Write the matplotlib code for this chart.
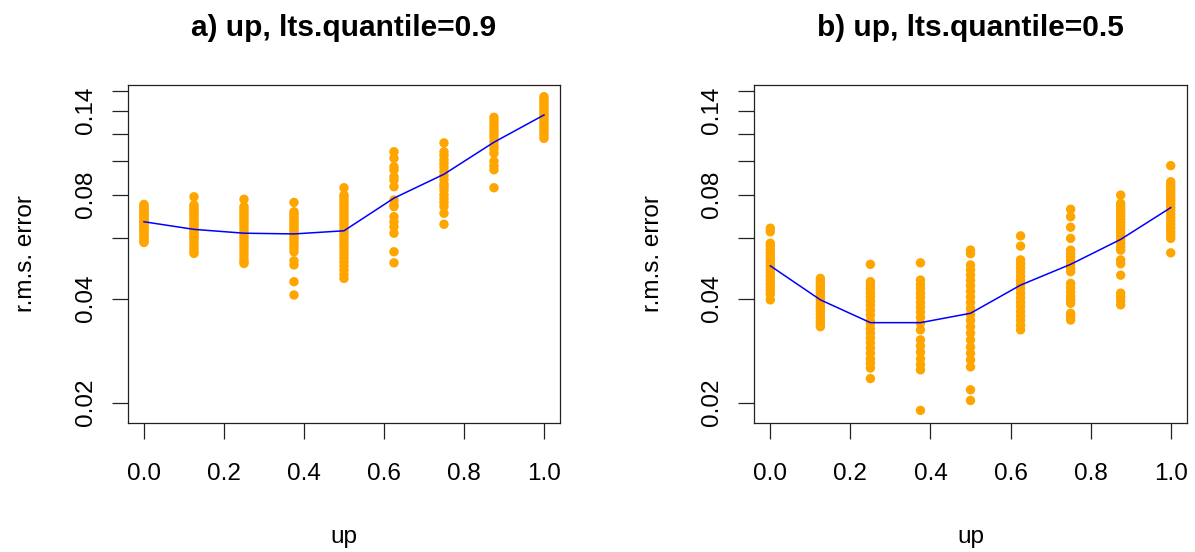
import numpy as np
import matplotlib.pyplot as plt
from matplotlib.ticker import NullLocator

plt.rcParams['font.family'] = ['Liberation Sans', 'DejaVu Sans']

# x positions of the groups
up = [0.0, 0.125, 0.25, 0.375, 0.5, 0.625, 0.75, 0.875, 1.0]

# r.m.s. errors per group, panel a (lts.quantile=0.9)
rmse_a = [
    [0.0750, 0.0742, 0.0735, 0.0728, 0.0720, 0.0712, 0.0705, 0.0698, 0.0690, 0.0683, 0.0676, 0.0670,
     0.0664, 0.0657, 0.0650, 0.0643, 0.0636, 0.0628, 0.0620, 0.0612, 0.0604, 0.0596, 0.0588, 0.0582],
    [0.0789, 0.0747, 0.0738, 0.0726, 0.0715, 0.0703, 0.0694, 0.0680, 0.0671, 0.0660, 0.0652, 0.0641,
     0.0633, 0.0622, 0.0615, 0.0604, 0.0596, 0.0585, 0.0572, 0.0561, 0.0550, 0.0541],
    [0.0776, 0.0739, 0.0728, 0.0715, 0.0703, 0.0690, 0.0679, 0.0666, 0.0654, 0.0640, 0.0626, 0.0610,
     0.0598, 0.0586, 0.0574, 0.0562, 0.0549, 0.0536, 0.0523, 0.0512, 0.0506],
    [0.0760, 0.0714, 0.0704, 0.0693, 0.0681, 0.0670, 0.0660, 0.0650, 0.0640, 0.0629, 0.0618, 0.0607,
     0.0596, 0.0584, 0.0572, 0.0560, 0.0547, 0.0515, 0.0501, 0.0448, 0.0410],
    [0.0838, 0.0798, 0.0785, 0.0770, 0.0755, 0.0740, 0.0725, 0.0710, 0.0696, 0.0682, 0.0668, 0.0655,
     0.0641, 0.0627, 0.0614, 0.0601, 0.0588, 0.0575, 0.0562, 0.0549, 0.0536, 0.0523, 0.0510, 0.0497,
     0.0484, 0.0470, 0.0458],
    [0.1065, 0.1020, 0.0964, 0.0943, 0.0902, 0.0882, 0.0844, 0.0772, 0.0747, 0.0739, 0.0691, 0.0668,
     0.0646, 0.0619, 0.0547, 0.0508],
    [0.1130, 0.1065, 0.1040, 0.1010, 0.0985, 0.0960, 0.0935, 0.0910, 0.0885, 0.0860, 0.0844, 0.0825,
     0.0800, 0.0780, 0.0760, 0.0740, 0.0707, 0.0657],
    [0.1340, 0.1310, 0.1280, 0.1250, 0.1222, 0.1195, 0.1170, 0.1140, 0.1110, 0.1085, 0.1055, 0.1000,
     0.0970, 0.0945, 0.0838],
    [0.1537, 0.1510, 0.1485, 0.1460, 0.1435, 0.1410, 0.1385, 0.1360, 0.1335, 0.1310, 0.1285, 0.1260,
     0.1235, 0.1210, 0.1188, 0.1165],
]

# r.m.s. errors per group, panel b (lts.quantile=0.5)
rmse_b = [
    [0.0640, 0.0625, 0.0579, 0.0568, 0.0555, 0.0543, 0.0531, 0.0519, 0.0508, 0.0497, 0.0486, 0.0475,
     0.0464, 0.0453, 0.0443, 0.0432, 0.0422, 0.0412, 0.0397],
    [0.0458, 0.0450, 0.0441, 0.0432, 0.0424, 0.0416, 0.0408, 0.0400, 0.0392, 0.0384, 0.0376, 0.0368,
     0.0360, 0.0352, 0.0344, 0.0338, 0.0332],
    [0.0503, 0.0448, 0.0438, 0.0427, 0.0416, 0.0405, 0.0394, 0.0383, 0.0371, 0.0359, 0.0345, 0.0339,
     0.0328, 0.0318, 0.0308, 0.0298, 0.0288, 0.0278, 0.0268, 0.0260, 0.0252, 0.0235],
    [0.0508, 0.0453, 0.0440, 0.0428, 0.0415, 0.0403, 0.0390, 0.0378, 0.0366, 0.0353, 0.0340, 0.0325,
     0.0304, 0.0292, 0.0280, 0.0268, 0.0258, 0.0249, 0.0190],
    [0.0553, 0.0540, 0.0501, 0.0485, 0.0468, 0.0452, 0.0436, 0.0420, 0.0405, 0.0390, 0.0375, 0.0360,
     0.0346, 0.0332, 0.0318, 0.0304, 0.0290, 0.0278, 0.0266, 0.0254, 0.0218, 0.0203],
    [0.0608, 0.0568, 0.0518, 0.0505, 0.0492, 0.0478, 0.0465, 0.0452, 0.0440, 0.0428, 0.0415, 0.0403,
     0.0391, 0.0380, 0.0368, 0.0357, 0.0346, 0.0335, 0.0325],
    [0.0726, 0.0691, 0.0644, 0.0598, 0.0553, 0.0540, 0.0528, 0.0515, 0.0503, 0.0490, 0.0479, 0.0443,
     0.0430, 0.0418, 0.0406, 0.0396, 0.0388, 0.0363, 0.0355, 0.0347],
    [0.0798, 0.0755, 0.0740, 0.0725, 0.0710, 0.0695, 0.0680, 0.0665, 0.0650, 0.0636, 0.0622, 0.0608,
     0.0594, 0.0580, 0.0566, 0.0553, 0.0518, 0.0505, 0.0468, 0.0415, 0.0405, 0.0395, 0.0384],
    [0.0971, 0.0872, 0.0855, 0.0838, 0.0820, 0.0803, 0.0786, 0.0770, 0.0753, 0.0736, 0.0720, 0.0704,
     0.0688, 0.0672, 0.0656, 0.0641, 0.0626, 0.0612, 0.0598, 0.0543],
]

# summary curves (blue lines)
line_a = [0.0668, 0.0635, 0.0619, 0.0616, 0.0629, 0.0782, 0.0917, 0.1135, 0.1361]
line_b = [0.0498, 0.0397, 0.0341, 0.0341, 0.0363, 0.0438, 0.0503, 0.0594, 0.0734]

titles = ['a) up, lts.quantile=0.9', 'b) up, lts.quantile=0.5']
ytick_vals = [0.02, 0.04, 0.06, 0.08, 0.10, 0.12, 0.14, 0.16]
ytick_labels = ['0.02', '0.04', '', '0.08', '', '', '0.14', '']
xtick_vals = [0.0, 0.2, 0.4, 0.6, 0.8, 1.0]


def draw_panel(ax, groups, line, title):
    for x, vals in zip(up, groups):
        ax.scatter([x] * len(vals), vals, s=46, color='orange', edgecolors='none', zorder=2)
    ax.plot(up, line, color='blue', lw=1.1, zorder=3)

    ax.set_yscale('log')
    ax.set_xlim(-0.04, 1.04)
    ax.set_ylim(0.01747, 0.1662)
    ax.set_yticks(ytick_vals)
    ax.set_yticklabels(ytick_labels, rotation=90, va='center')
    ax.yaxis.set_minor_locator(NullLocator())
    ax.set_xticks(xtick_vals)
    ax.set_xticklabels(['%.1f' % v for v in xtick_vals])
    ax.tick_params(axis='both', length=11.5, width=0.9, labelsize=17.5, color='#222222')
    ax.tick_params(axis='x', pad=17)
    ax.tick_params(axis='y', pad=11)
    for sp in ax.spines.values():
        sp.set_linewidth(0.9)
        sp.set_color('#222222')

    ax.set_title(title, fontsize=21.5, fontweight='bold', pad=35)
    ax.set_xlabel('up', fontsize=17.5, labelpad=30)
    ax.set_ylabel('r.m.s. error', fontsize=17.5, labelpad=27)


fig = plt.figure(figsize=(11.95, 5.52), dpi=100)
ax1 = fig.add_axes([0.1071, 0.2337, 0.3615, 0.6123])
ax2 = fig.add_axes([0.6312, 0.2337, 0.3619, 0.6123])

draw_panel(ax1, rmse_a, line_a, titles[0])
draw_panel(ax2, rmse_b, line_b, titles[1])

plt.savefig('out.png', dpi=100)
